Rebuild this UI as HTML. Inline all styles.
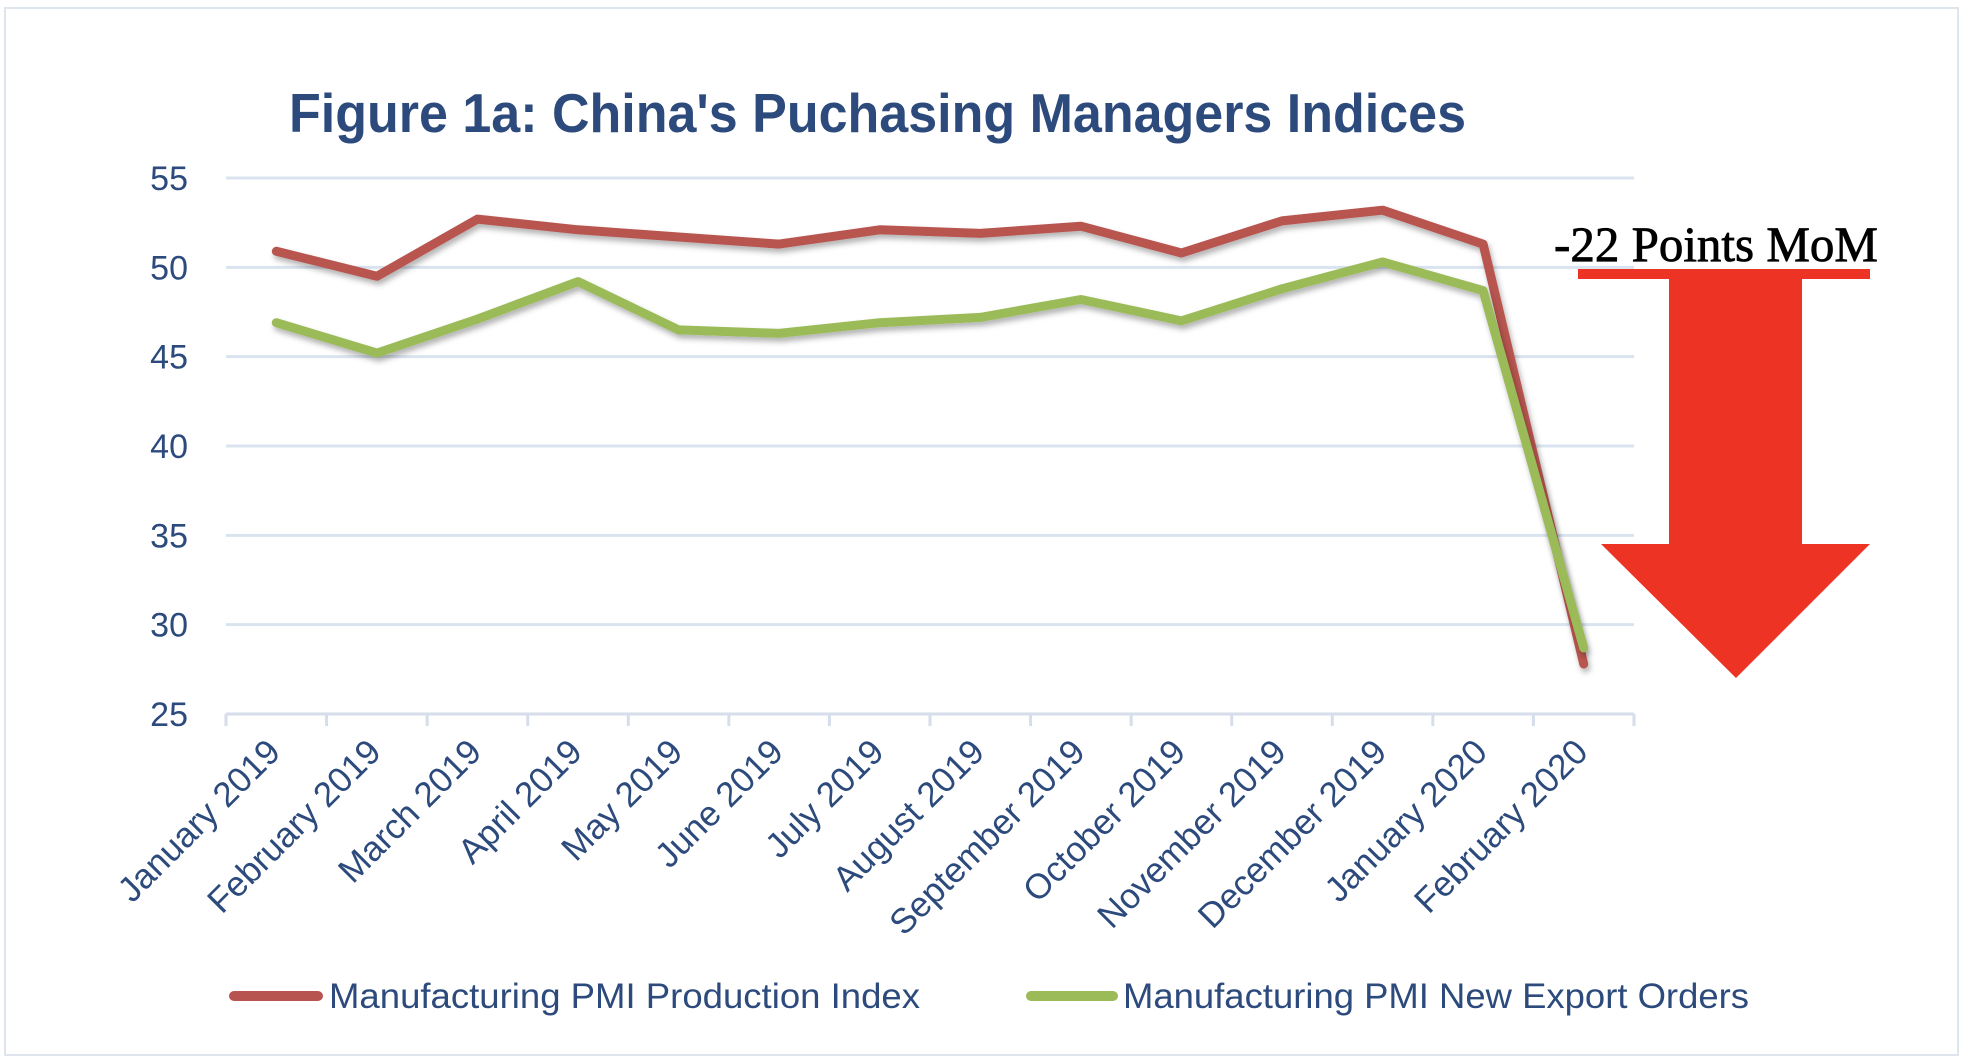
<!DOCTYPE html>
<html><head><meta charset="utf-8"><style>
html,body{margin:0;padding:0;background:#fff;}
svg{display:block;}
</style></head><body>
<svg id="chart" width="1968" height="1060" viewBox="0 0 1968 1060" xmlns="http://www.w3.org/2000/svg">
<defs>
<filter id="sh" x="-5%" y="-5%" width="110%" height="120%"><feDropShadow dx="2" dy="4" stdDeviation="3" flood-color="#000" flood-opacity="0.3"/></filter>
</defs>
<rect x="5" y="8" width="1953" height="1047" fill="#fff" stroke="#dfe5ec" stroke-width="2"/>
<text x="289" y="132" font-family="Liberation Sans, sans-serif" font-weight="bold" font-size="55" fill="#2c4a7c" textLength="1177" lengthAdjust="spacingAndGlyphs">Figure 1a: China's Puchasing Managers Indices</text>
<g id="grid"></g><g id="axes"></g><g id="series"></g>
<g>
<text x="1554" y="261" font-family="Liberation Serif, serif" font-size="50" fill="#000" stroke="#000" stroke-width="0.8" textLength="324" lengthAdjust="spacingAndGlyphs">-22 Points MoM</text>
<rect x="1578" y="269" width="292" height="10" fill="#ec3324"/>
<polygon points="1669,279 1802,279 1802,544 1870,544 1736,678 1601,544 1669,544" fill="#ec3324"/>
</g>
<g>
<line x1="234" y1="996" x2="318" y2="996" stroke="#b85450" stroke-width="10" stroke-linecap="round"/>
<text x="329" y="1008" font-family="Liberation Sans, sans-serif" font-size="35" fill="#2c4a7c" textLength="591" lengthAdjust="spacingAndGlyphs">Manufacturing PMI Production Index</text>
<line x1="1031" y1="996" x2="1113" y2="996" stroke="#9bbb59" stroke-width="10" stroke-linecap="round"/>
<text x="1123" y="1008" font-family="Liberation Sans, sans-serif" font-size="35" fill="#2c4a7c" textLength="626" lengthAdjust="spacingAndGlyphs">Manufacturing PMI New Export Orders</text>
</g>
</svg>
<script>
const categories = ["January 2019","February 2019","March 2019","April 2019","May 2019","June 2019","July 2019","August 2019","September 2019","October 2019","November 2019","December 2019","January 2020","February 2020"];
const production = [50.9,49.5,52.7,52.1,51.7,51.3,52.1,51.9,52.3,50.8,52.6,53.2,51.3,27.8];
const exportOrders = [46.9,45.2,47.1,49.2,46.5,46.3,46.9,47.2,48.2,47.0,48.8,50.3,48.7,28.7];
const yTicks = [25,30,35,40,45,50,55];

const NS = "http://www.w3.org/2000/svg";
const X0 = 226, X1 = 1634, Y0 = 714, Y1 = 178, YMIN = 25, YMAX = 55;
const band = (X1 - X0) / categories.length;
function xScale(i){ return X0 + band * (i + 0.5); }
function yScale(v){ return Y0 - (v - YMIN) / (YMAX - YMIN) * (Y0 - Y1); }
function mk(tag, attrs, parent){ const e = document.createElementNS(NS, tag); for (const k in attrs) e.setAttribute(k, attrs[k]); parent.appendChild(e); return e; }

const grid = document.getElementById("grid");
const axes = document.getElementById("axes");
const series = document.getElementById("series");

yTicks.forEach(t => {
  const y = yScale(t);
  if (t !== YMIN) {
    const g = mk("line", {x1: X0, x2: X1, y1: y, y2: y, stroke: "#dae3f0", "stroke-width": 3}, grid);
    
    
  }
  const lb = mk("text", {x: 188, y: y + 12, "text-anchor": "end", "font-family": "Liberation Sans, sans-serif", "font-size": 34, fill: "#2c4a7c"}, axes);
  lb.textContent = t;
  
  
});

const ax = mk("line", {x1: X0, x2: X1, y1: Y0, y2: Y0, stroke: "#d5deea", "stroke-width": 3}, axes);


for (let i = 0; i <= categories.length; i++) {
  const x = X0 + band * i;
  const tk = mk("line", {x1: x, x2: x, y1: Y0, y2: Y0 + 12, stroke: "#d5deea", "stroke-width": 3}, axes);
  
  
}
categories.forEach((c, i) => {
  const x = xScale(i) + 6, y = 754;
  const t = mk("text", {x: x, y: y, "text-anchor": "end", transform: "rotate(-45 " + x + " " + y + ")", "font-family": "Liberation Sans, sans-serif", "font-size": 35, fill: "#2c4a7c"}, axes);
  t.textContent = c;
  
  
});

function drawLine(vals, color, name){
  const pts = vals.map((v, i) => xScale(i).toFixed(1) + "," + yScale(v).toFixed(1)).join(" ");
  const p = mk("polyline", {points: pts, fill: "none", stroke: color, "stroke-width": 9, "stroke-linejoin": "round", "stroke-linecap": "round", filter: "url(#sh)"}, series);
  
  
}
drawLine(production, "#b85450", "production-index-line");
drawLine(exportOrders, "#9bbb59", "new-export-orders-line");
</script>
</body></html>
